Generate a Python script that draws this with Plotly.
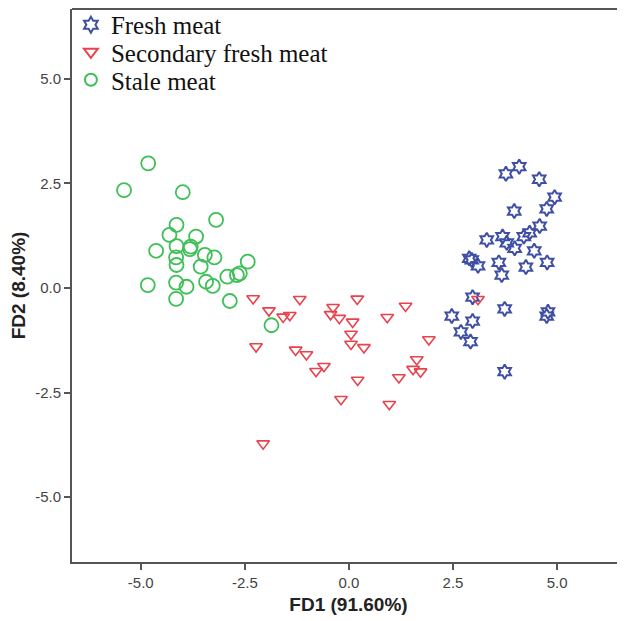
import plotly.graph_objects as go

# ---- data ----
fresh_x = [4.09, 3.77, 4.57, 4.94, 4.75, 3.97, 4.58, 4.34, 4.20, 3.31, 3.69, 3.79, 3.98, 4.45, 2.89,
           2.95, 3.10, 3.60, 3.67, 4.25, 4.76, 2.97, 3.74, 4.78, 4.75, 2.47, 2.97, 2.69, 2.92, 3.74]
fresh_y = [2.90, 2.73, 2.60, 2.17, 1.89, 1.84, 1.48, 1.32, 1.23, 1.15, 1.23, 1.08, 0.95, 0.89, 0.71,
           0.67, 0.53, 0.61, 0.31, 0.50, 0.61, -0.22, -0.50, -0.57, -0.67, -0.67, -0.79, -1.05, -1.28, -2.00]

second_x = [-2.30, -1.18, 0.20, -1.92, -1.58, -1.42, -0.38, -0.44, -0.23, 1.36, 0.92, 0.09, 0.05, 0.05, 0.36,
            1.92, -2.23, -1.28, -1.02, -0.60, -0.79, 1.63, 1.54, 1.72, 1.20, 0.21, -0.19, 0.97, -2.06, 3.10]
second_y = [-0.25, -0.27, -0.26, -0.54, -0.69, -0.65, -0.46, -0.63, -0.72, -0.43, -0.70, -0.81, -1.10, -1.34, -1.42,
            -1.23, -1.40, -1.48, -1.59, -1.87, -1.99, -1.71, -1.94, -2.00, -2.14, -2.20, -2.66, -2.78, -3.72, -0.27]

stale_x = [-4.82, -5.40, -3.99, -3.19, -4.14, -4.31, -3.67, -4.63, -4.14, -3.80, -3.82, -3.46, -3.23, -4.15,
           -4.14, -3.56, -2.43, -2.62, -2.69, -2.92, -4.83, -4.15, -3.90, -3.43, -3.27, -4.15, -2.86, -1.86]
stale_y = [2.98, 2.34, 2.29, 1.63, 1.51, 1.27, 1.23, 0.89, 1.00, 0.99, 0.93, 0.79, 0.73, 0.73,
           0.55, 0.51, 0.63, 0.35, 0.31, 0.27, 0.07, 0.13, 0.03, 0.15, 0.05, -0.26, -0.31, -0.89]

tick_vals = [-5.0, -2.5, 0.0, 2.5, 5.0]
tick_text = ["-5.0", "-2.5", "0.0", "2.5", "5.0"]

BLUE = "#3F4FA3"
RED = "#E8424C"
GREEN = "#3EBF57"

fig = go.Figure()
fig.add_trace(go.Scatter(x=fresh_x, y=fresh_y, mode="markers", name="Fresh meat", legend="legend",
                         marker=dict(symbol="hexagram-open", size=11, color=BLUE,
                                     line=dict(width=2, color=BLUE))))
fig.add_trace(go.Scatter(x=second_x, y=second_y, mode="markers", name="Secondary fresh meat", legend="legend2",
                         marker=dict(symbol="triangle-down-open", size=11, color=RED,
                                     line=dict(width=1.6, color=RED))))
fig.add_trace(go.Scatter(x=stale_x, y=stale_y, mode="markers", name="Stale meat", legend="legend3",
                         marker=dict(symbol="circle-open", size=14, color=GREEN,
                                     line=dict(width=1.8, color=GREEN))))

axis_common = dict(showgrid=False, zeroline=False, showline=True, linecolor="#555555", linewidth=2,
                   ticks="outside", ticklen=6, tickwidth=1.5, tickcolor="#555555",
                   tickvals=tick_vals, ticktext=tick_text, automargin=False,
                   tickfont=dict(family="Liberation Sans, Arial", size=15, color="#444444"))

legend_common = dict(xanchor="left", yanchor="middle", bgcolor="rgba(0,0,0,0)",
                     font=dict(family="Liberation Serif, Times New Roman", size=25, color="#111111"),
                     itemsizing="constant")

# The page body adds an 8 px offset, so the figure is 8 px smaller and shifted.
fig.update_layout(
    width=617, height=613,
    margin=dict(l=64, r=0, t=1, b=59, autoexpand=False),
    paper_bgcolor="white", plot_bgcolor="white",
    xaxis=dict(range=[-6.65, 6.63], mirror=False,
               title=dict(text="<b>FD1 (91.60%)</b>", standoff=8,
                          font=dict(family="Liberation Sans, Arial", size=19, color="#222222")),
               **axis_common),
    yaxis=dict(range=[-6.55, 6.67], mirror=False,
               title=dict(text="<b>FD2 (8.40%)</b>", standoff=4,
                          font=dict(family="Liberation Sans, Arial", size=19, color="#222222")),
               **axis_common),
    legend=dict(x=-0.002, y=0.9711, **legend_common),
    legend2=dict(x=-0.002, y=0.9222, **legend_common),
    legend3=dict(x=-0.002, y=0.8716, **legend_common),
    showlegend=True,
)

fig.add_shape(type="line", xref="paper", yref="paper", x0=0, x1=1, y0=1, y1=1,
              line=dict(color="#555555", width=2))

fig.write_html("out.html")
